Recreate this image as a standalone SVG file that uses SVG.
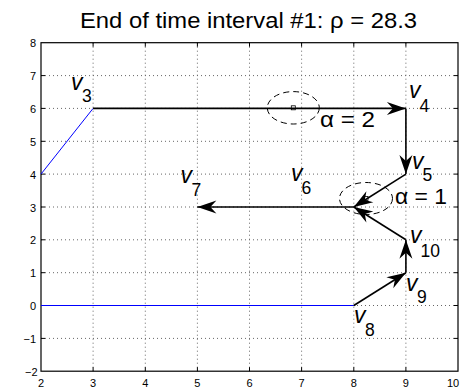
<svg xmlns="http://www.w3.org/2000/svg" width="470" height="392" viewBox="0 0 470 392">
<style>
.grid{stroke:#666;stroke-width:1;stroke-dasharray:1 3;fill:none}
.tick{stroke:#000;stroke-width:1}
.tl{font-family:"Liberation Sans",Arial,sans-serif;font-size:11px;fill:#000}
.ylab{text-anchor:end}
.xlab{text-anchor:middle}
.arr{stroke:#000;stroke-width:1.6;fill:none;marker-end:url(#ah)}
.blue{stroke:#0000ff;stroke-width:1;fill:none}
.v{font-family:"Liberation Sans",Arial,sans-serif;font-size:23px;font-style:italic;fill:#000}
.s{font-family:"Liberation Sans",Arial,sans-serif;font-size:17.5px;fill:#000}
.lbl{font-family:"Liberation Sans",Arial,sans-serif;font-size:22px;fill:#000}
.ell{stroke:#000;stroke-width:1;fill:none;stroke-dasharray:6 4}
.sq{stroke:#000;stroke-width:0.8;fill:none}
</style>
<defs>
<marker id="ah" markerUnits="userSpaceOnUse" viewBox="-20 -8 22 16" markerWidth="22" markerHeight="16" refX="0" refY="0" orient="auto" overflow="visible">
<path d="M0,0 L-19,-6.5 L-13,0 L-19,6.5 Z" fill="#000"/>
</marker>
</defs>
<rect width="470" height="392" fill="#fff"/>
<text class="lbl" x="248.5" y="28" font-size="23" text-anchor="middle" textLength="337" lengthAdjust="spacingAndGlyphs">End of time interval #1: ρ = 28.3</text>
<g id="axes">
<g class="grid">
<path d="M93.1,42.7V371.2M145.3,42.7V371.2M197.4,42.7V371.2M249.5,42.7V371.2M301.6,42.7V371.2M353.8,42.7V371.2M405.9,42.7V371.2"/>
<path d="M41,75.6H458M41,108.4H458M41,141.3H458M41,174.1H458M41,207H458M41,239.8H458M41,272.7H458M41,305.5H458M41,338.4H458"/>
</g>
<g class="tick">
<path d="M93.1,42.7v4M145.3,42.7v4M197.4,42.7v4M249.5,42.7v4M301.6,42.7v4M353.8,42.7v4M405.9,42.7v4"/>
<path d="M93.1,371.2v-4M145.3,371.2v-4M197.4,371.2v-4M249.5,371.2v-4M301.6,371.2v-4M353.8,371.2v-4M405.9,371.2v-4"/>
<path d="M41,75.6h4M41,108.4h4M41,141.3h4M41,174.1h4M41,207h4M41,239.8h4M41,272.7h4M41,305.5h4M41,338.4h4"/>
<path d="M458,75.6h-4M458,108.4h-4M458,141.3h-4M458,174.1h-4M458,207h-4M458,239.8h-4M458,272.7h-4M458,305.5h-4M458,338.4h-4"/>
</g>
<rect x="41" y="42.7" width="417" height="328.5" fill="none" stroke="#000" stroke-width="1.2"/>
<g class="tl ylab">
<text x="36" y="47.2">8</text><text x="36" y="80.1">7</text><text x="36" y="112.9">6</text><text x="36" y="145.8">5</text><text x="36" y="178.6">4</text><text x="36" y="211.5">3</text><text x="36" y="244.3">2</text><text x="36" y="277.2">1</text><text x="36" y="310">0</text><text x="36" y="342.9">−1</text><text x="37.5" y="375.5">−2</text>
</g>
<g class="tl xlab">
<text x="41" y="387">2</text><text x="93.1" y="387">3</text><text x="145.3" y="387">4</text><text x="197.4" y="387">5</text><text x="249.5" y="387">6</text><text x="301.6" y="387">7</text><text x="353.8" y="387">8</text><text x="405.9" y="387">9</text><text x="453" y="387">10</text>
</g>
</g>
<g id="connectors">
<path class="blue" d="M41,174.1L93.1,108.4"/>
<path class="blue" d="M41,305.5H353.8"/>
<path class="arr" d="M93.1,108.4H405.9"/>
<path class="arr" d="M405.9,108.4V174.1"/>
<path class="arr" d="M405.9,174.1L353.8,207"/>
<path class="arr" d="M353.8,207H197.4"/>
<path class="arr" d="M353.8,305.5L405.9,272.7"/>
<path class="arr" d="M405.9,272.7V239.8"/>
<path class="arr" d="M405.9,239.8L353.8,207"/>
</g>
<g id="region1">
<ellipse class="ell" cx="293.3" cy="107.8" rx="26" ry="16.2"/>
<rect class="sq" x="291.3" y="105.8" width="4" height="4"/>
<text class="lbl" x="320" y="127" textLength="55" lengthAdjust="spacingAndGlyphs">α = 2</text>
</g>
<g id="region2">
<ellipse class="ell" cx="366" cy="198.5" rx="26.5" ry="16"/>
<rect class="sq" x="364" y="196.5" width="4" height="4"/>
<text class="lbl" x="395" y="204" font-size="21" textLength="52" lengthAdjust="spacingAndGlyphs">α = 1</text>
</g>
<g id="v3"><text class="v" x="71" y="90">v</text><text class="s" x="82" y="102">3</text></g>
<g id="v4"><text class="v" x="409" y="98">v</text><text class="s" x="419.5" y="112">4</text></g>
<g id="v5"><text class="v" x="412" y="169">v</text><text class="s" x="422.5" y="181" font-size="16">5</text></g>
<g id="v6"><text class="v" x="291" y="181">v</text><text class="s" x="301.5" y="193.5">6</text></g>
<g id="v7"><text class="v" x="180.5" y="183">v</text><text class="s" x="191.5" y="196">7</text></g>
<g id="v8"><text class="v" x="354" y="323">v</text><text class="s" x="365" y="336">8</text></g>
<g id="v9"><text class="v" x="406" y="291">v</text><text class="s" x="417" y="303">9</text></g>
<g id="v10"><text class="v" x="410" y="243">v</text><text class="s" x="420.5" y="257">10</text></g>
</svg>
